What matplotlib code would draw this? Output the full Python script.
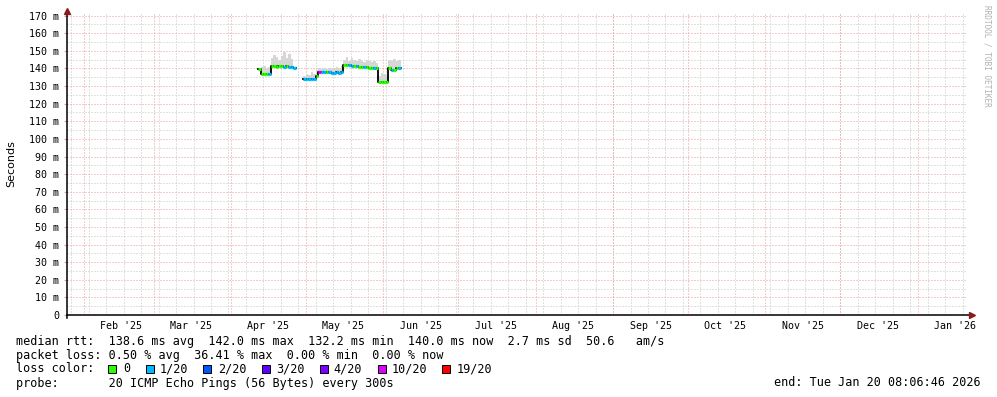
import numpy as np
import pandas as pd
import matplotlib
matplotlib.use('Agg')
import matplotlib.pyplot as plt
import matplotlib.dates as mdates

# time window of the graph
end_time = pd.Timestamp('2026-01-20 08:06:46')
start_time = end_time - pd.Timedelta(days=360)
first_day = pd.Timestamp('2025-04-12')

# daily median rtt (ms), nan = no data
median_rtt = [139.5, 137.0, 137.0, 137.0, 137.0, 141.2, 141.2, 141.0, 141.2, 141.2,
              141.0, 141.2, 140.8, 141.0, 140.5, np.nan, np.nan, np.nan, 134.0, 134.0,
              134.0, 134.0, 134.2, 136.0, 138.2, 138.2, 138.0, 138.0, 137.8, 137.5,
              137.5, 137.8, 137.5, 138.0, 142.0, 142.0, 141.8, 141.5, 141.5, 141.5,
              141.0, 141.0, 141.0, 141.0, 140.5, 140.0, 140.0, 140.0, 132.5, 132.5,
              132.5, 132.5, 140.0, 139.0, 139.0, 140.0, 140.0]
# lost pings out of 20 per day
lost = [0, 0, 0, 0, 1, 0, 0, 0, 0, 0,
        1, 0, 1, 1, 1, 0, 0, 0, 1, 1,
        1, 1, 1, 0, 10, 1, 1, 0, 1, 1,
        1, 1, 1, 1, 0, 0, 1, 1, 0, 1,
        0, 0, 1, 0, 0, 0, 1, 0, 0, 0,
        0, 0, 0, 1, 0, 0, 1]
# smoke (spread of the pings)
smoke_hi = [140.5, 141.0, 141.5, 140.5, 141.0, 146.0, 147.5, 146.5, 145.0, 147.0,
            149.5, 146.0, 148.0, 145.5, 144.0, np.nan, np.nan, np.nan, 136.0, 137.0,
            136.5, 138.0, 137.0, 139.0, 140.5, 139.5, 140.0, 139.5, 140.0, 139.5,
            140.0, 141.0, 140.5, 141.5, 145.0, 146.5, 144.5, 146.0, 145.0, 144.0,
            145.5, 144.0, 143.5, 145.0, 144.0, 143.5, 144.5, 143.0, 136.0, 137.5,
            137.0, 135.5, 145.0, 144.0, 145.5, 144.5, 145.0]
smoke_lo = [138.5, 136.0, 136.0, 136.2, 136.0, 140.0, 140.2, 140.0, 140.3, 140.0,
            140.0, 140.2, 139.8, 140.0, 139.5, np.nan, np.nan, np.nan, 133.0, 133.2,
            133.0, 133.0, 133.3, 135.0, 137.0, 137.2, 137.0, 137.0, 136.8, 136.5,
            136.5, 136.8, 136.5, 137.0, 141.0, 141.0, 140.8, 140.5, 140.5, 140.5,
            140.0, 140.0, 140.0, 140.0, 139.5, 139.0, 139.0, 139.0, 131.5, 131.5,
            131.5, 131.5, 139.0, 138.0, 138.0, 139.0, 139.0]

loss_steps = [0, 1, 2, 3, 4, 10, 19]
loss_labels = ['0', '1/20', '2/20', '3/20', '4/20', '10/20', '19/20']
loss_colors = ['#26ff00', '#00b8ff', '#0059ff', '#5e00ff', '#7e00ff', '#dd00ff', '#ff0000']

y_ticks = list(range(0, 171, 10))

W, H = 997, 397


def loss_color(n):
    c = loss_colors[0]
    for s, col in zip(loss_steps, loss_colors):
        if n >= s:
            c = col
    return c


fig = plt.figure(figsize=(W / 100, H / 100), dpi=100)
fig.patch.set_facecolor('white')
ax = fig.add_axes([67 / W, (H - 315) / H, (966 - 67) / W, (315 - 13) / H])
ax.set_facecolor('white')

x0 = mdates.date2num(start_time)
x1 = mdates.date2num(end_time)
ax.set_xlim(x0, x1)
ax.set_ylim(0, 171.5)

# grid
months = pd.date_range('2025-02-01', '2026-01-01', freq='MS')
weeks = pd.date_range(start_time.normalize(), end_time, freq='W-MON')
minor_kw = dict(color='#c4c4c4', lw=0.72, ls=(0, (1, 2)), zorder=0)
major_kw = dict(color='#eb9a9a', lw=0.72, ls=(0, (1, 2)), zorder=0)
for w in weeks:
    ax.axvline(mdates.date2num(w), **minor_kw)
for v in range(5, 171, 10):
    ax.axhline(v, **minor_kw)
for m in months:
    ax.axvline(mdates.date2num(m), **major_kw)
for v in y_ticks[1:]:
    ax.axhline(v, **major_kw)

# data
days = pd.date_range(first_day, periods=len(median_rtt) + 1, freq='D')
xd = mdates.date2num(days)
med = np.array(median_rtt + [median_rtt[-1]])
hi = np.array(smoke_hi + [smoke_hi[-1]])
lo = np.array(smoke_lo + [smoke_lo[-1]])
ok = ~np.isnan(hi)
ax.fill_between(xd, lo, hi, where=ok, step='post', color='#d6d6d6', lw=0, zorder=2)
ax.step(xd, med, where='post', color='black', lw=1.3, zorder=3)
ax.hlines(median_rtt, xd[:-1], xd[1:], colors=[loss_color(n) for n in lost],
          lw=2.3, zorder=4)

# axes lines with arrows
for s in ax.spines.values():
    s.set_visible(False)
ax.plot([0, 1 + 6 / 899], [0, 0], transform=ax.transAxes, color='black', lw=1.1,
        clip_on=False, zorder=5)
ax.plot([0, 0], [-3 / 302, 1 + 2 / 302], transform=ax.transAxes, color='black', lw=1.1,
        clip_on=False, zorder=5)
ax.plot([1 + 6 / 899], [0], transform=ax.transAxes, marker='>', ms=4.5, color='#8b1a1a',
        clip_on=False, zorder=6)
ax.plot([0], [1 + 2 / 302], transform=ax.transAxes, marker='^', ms=4.5, color='#8b1a1a',
        clip_on=False, zorder=6)

# ticks
mid_months = pd.date_range('2025-02-16', '2026-01-16', freq='MS') + pd.Timedelta(days=15)
mid_months = [pd.Timestamp(m.year, m.month, 16) for m in months]
ax.set_xticks(mdates.date2num(mid_months))
ax.set_xticklabels([m.strftime("%b '%y") for m in mid_months])
ax.set_yticks(y_ticks)
ax.set_yticklabels([f'{v} m' if v else '0' for v in y_ticks])
ax.tick_params(axis='x', length=0, pad=4.5, labelsize=7.2)
ax.tick_params(axis='y', length=2, color='#eb9a9a', pad=3.5, labelsize=7.2)
for lab in ax.get_xticklabels() + ax.get_yticklabels():
    lab.set_family('DejaVu Sans Mono')

fig.text(11 / W, 1 - 164 / H, 'Seconds', rotation=90, ha='center', va='center',
         fontsize=8, family='DejaVu Sans')
fig.text(987 / W, 1 - 5 / H, 'RRDTOOL / TOBI OETIKER', rotation=270, ha='center',
         va='top', fontsize=5.6, family='DejaVu Sans Mono', color='#b0b0b0')

# legend
mono = dict(family='DejaVu Sans Mono', fontsize=8.5, va='center')
fig.text(16 / W, 1 - 341 / H,
         'median rtt:  138.6 ms avg  142.0 ms max  132.2 ms min  140.0 ms now  2.7 ms sd  50.6   am/s',
         **mono)
fig.text(16 / W, 1 - 355 / H,
         'packet loss: 0.50 % avg  36.41 % max  0.00 % min  0.00 % now', **mono)
fig.text(16 / W, 1 - 369 / H, 'loss color:', **mono)
box_x = [108, 146, 203, 262, 320, 378, 442]
lab_x = [123, 160, 218, 276, 333, 392, 457]
for bx, lx, lab, col in zip(box_x, lab_x, loss_labels, loss_colors):
    fig.patches.append(plt.Rectangle((bx / W, 1 - 373 / H), 8 / W, 8 / H,
                                     transform=fig.transFigure, facecolor=col,
                                     edgecolor='black', lw=0.7))
    fig.text(lx / W, 1 - 369 / H, lab, **mono)
fig.text(16 / W, 1 - 383 / H,
         'probe:       20 ICMP Echo Pings (56 Bytes) every 300s', **mono)
fig.text(981 / W, 1 - 383 / H, 'end: Tue Jan 20 08:06:46 2026', ha='right', **mono)

fig.savefig('out.png', dpi=100, facecolor='white')
